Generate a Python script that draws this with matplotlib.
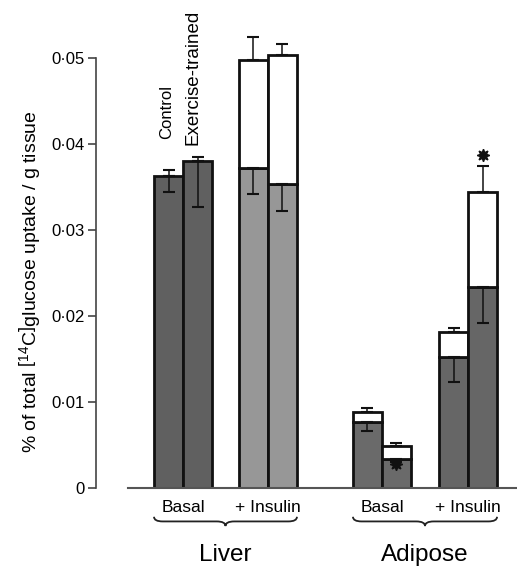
"""Glucose uptake in liver and adipose tissue, control vs exercise-trained."""

import matplotlib
matplotlib.use("Agg")
import matplotlib.pyplot as plt
from matplotlib.path import Path
from matplotlib.patches import PathPatch
import matplotlib.transforms as mtransforms

plt.rcParams["font.family"] = ["Liberation Sans", "DejaVu Sans"]
plt.rcParams["mathtext.fontset"] = "custom"
plt.rcParams["mathtext.rm"] = "Liberation Sans"
plt.rcParams["mathtext.it"] = "Liberation Sans:italic"

# data (fraction of total label / g tissue)
tissues = ["Liver", "Adipose"]
conditions = ["Basal", "+ Insulin"]
groups = ["Control", "Exercise-trained"]

# dark (shaded) part of each bar: liver basal, liver insulin, adipose basal, adipose insulin
dark_control = [0.0362, 0.0372, 0.0077, 0.0152]
dark_trained = [0.0380, 0.0353, 0.0034, 0.0234]
# total height incl. white part (None = no white part)
total_control = [None, 0.0497, 0.0088, 0.0181]
total_trained = [None, 0.0503, 0.0049, 0.0344]
# error bars: upward from the bar top, downward from the dark top
err_up_control = [0.0007, 0.0027, 0.0005, 0.0005]
err_up_trained = [0.0005, 0.0013, 0.0003, 0.0030]
err_dn_control = [0.0018, 0.0030, 0.0011, 0.0029]
err_dn_trained = [0.0053, 0.0031, 0.0004, 0.0042]
# significance stars: (condition index, value)
stars = [(2, 0.0028), (3, 0.0387)]

y_ticks = [0, 0.01, 0.02, 0.03, 0.04, 0.05]
y_ticklabels = ["0", "0·01", "0·02", "0·03", "0·04", "0·05"]

# layout (bar width = 1 unit)
group_left = [2.0, 4.93, 8.86, 11.83]
fill_colors = ["#606060", "#979797", "#6a6a6a", "#666666"]

fig = plt.figure(figsize=(5.17, 5.68), dpi=100)
ax = fig.add_axes([96 / 517, 80 / 568, 421 / 517, 488 / 568])
ax.set_xlim(0, 421 / 29)
ax.set_ylim(0, 0.0567)

darks = [dark_control, dark_trained]
totals = [total_control, total_trained]
ups = [err_up_control, err_up_trained]
dns = [err_dn_control, err_dn_trained]

for i, left in enumerate(group_left):
    for j in range(2):
        x = left + j
        d = darks[j][i]
        t = totals[j][i]
        ax.bar(x, d, width=1, align="edge", color=fill_colors[i],
               edgecolor="#111111", linewidth=2.0, zorder=2)
        top = d
        if t is not None:
            ax.bar(x, t - d, bottom=d, width=1, align="edge", color="white",
                   edgecolor="#111111", linewidth=2.0, zorder=2)
            top = t
        xc = x + 0.5
        ax.errorbar(xc, top, yerr=[[0], [ups[j][i]]], fmt="none",
                    ecolor="#111111", elinewidth=1.1, capsize=4, capthick=1.5,
                    zorder=3)
        ax.errorbar(xc, d, yerr=[[dns[j][i]], [0]], fmt="none",
                    ecolor="#111111", elinewidth=1.1, capsize=4, capthick=1.5,
                    zorder=3)

for ci, yv in stars:
    ax.plot(group_left[ci] + 1.5, yv, marker=(8, 1, 0), markersize=9,
            color="#111111", zorder=4)

# group labels above the first pair
ax.text(group_left[0] + 0.42, 0.0405, groups[0], rotation=90,
        ha="center", va="bottom", fontsize=12)
ax.text(group_left[0] + 1.35, 0.0398, groups[1], rotation=90,
        ha="center", va="bottom", fontsize=13.5)

# axes styling
for s in ["top", "right"]:
    ax.spines[s].set_visible(False)
ax.spines["left"].set_bounds(0, 0.05)
ax.spines["left"].set_linewidth(1.2)
ax.spines["left"].set_color("#444444")
ax.spines["bottom"].set_bounds(1.1, 421 / 29)
ax.spines["bottom"].set_linewidth(1.5)
ax.spines["bottom"].set_color("#555555")
ax.set_yticks(y_ticks)
ax.set_yticklabels(y_ticklabels, fontsize=12)
ax.tick_params(axis="y", length=6, width=1.2, pad=2, color="#444444")

centers = [g + 1 for g in group_left]
ax.set_xticks(centers)
ax.set_xticklabels(conditions * 2, fontsize=12.5)
ax.tick_params(axis="x", length=0, pad=9)

fig.text(30 / 517, (568 - 282) / 568,
         r"% of total $\left[^{14}\mathrm{C}\right]$glucose uptake / g tissue",
         rotation=90, ha="center", va="center", fontsize=14)

# braces under each tissue
trans = mtransforms.blended_transform_factory(ax.transData, ax.transAxes)


def draw_brace(x0, x1, y0, h, r):
    xm = (x0 + x1) / 2
    ym = y0 - h / 2
    verts = [(x0, y0), (x0, ym), (x0 + r, ym),
             (xm - r, ym),
             (xm, ym), (xm, y0 - h),
             (xm, ym), (xm + r, ym),
             (x1 - r, ym),
             (x1, ym), (x1, y0)]
    codes = [Path.MOVETO, Path.CURVE3, Path.CURVE3,
             Path.LINETO,
             Path.CURVE3, Path.CURVE3,
             Path.CURVE3, Path.CURVE3,
             Path.LINETO,
             Path.CURVE3, Path.CURVE3]
    patch = PathPatch(Path(verts, codes), facecolor="none", edgecolor="#222222",
                      linewidth=1.3, transform=trans, clip_on=False)
    ax.add_patch(patch)


for k, name in enumerate(tissues):
    x0 = group_left[2 * k]
    x1 = group_left[2 * k + 1] + 2
    draw_brace(x0, x1, -0.059, 0.019, 0.3)
    ax.text((x0 + x1) / 2, -0.138, name, transform=trans, ha="center",
            va="center", fontsize=17.5)

fig.savefig("out.png", dpi=100)
